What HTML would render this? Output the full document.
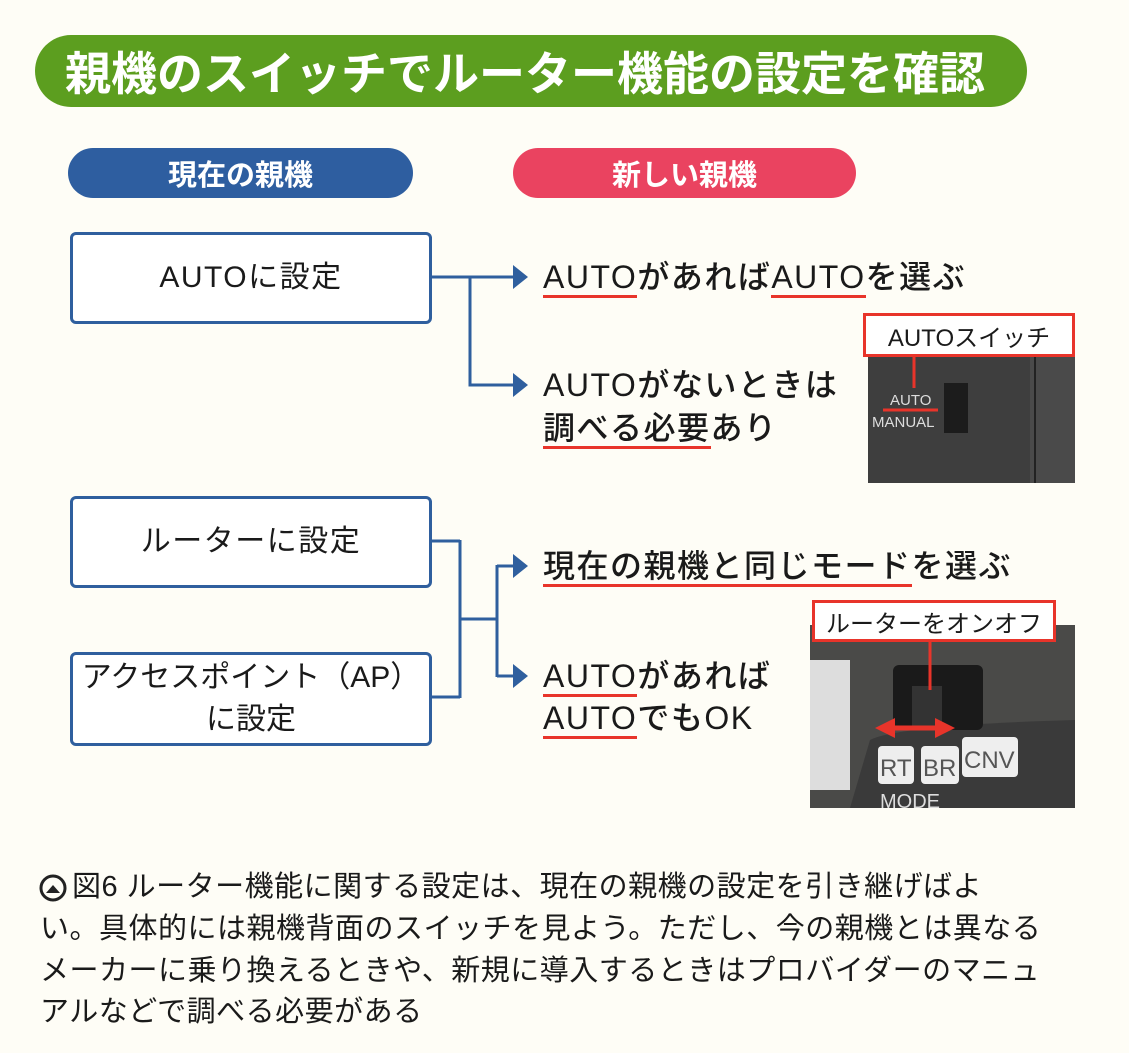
<!DOCTYPE html>
<html><head><meta charset="utf-8"><style>
body{margin:0;width:1129px;height:1053px;background:#fefdf6;position:relative;overflow:hidden;font-family:"Liberation Sans","Noto Sans CJK JP",sans-serif;color:#1a1a1a}
.a{position:absolute}
.pill{position:absolute;border-radius:30px;color:#fff;font-weight:bold;display:flex;align-items:center}
.box{position:absolute;border:3px solid #2f5f9e;border-radius:6px;background:#fff;display:flex;align-items:center;justify-content:center;text-align:center;font-size:30px;letter-spacing:1.5px;line-height:42px}
.t{position:absolute;font-size:32px;letter-spacing:1.5px;font-weight:500;line-height:42px;white-space:nowrap}
.u{border-bottom:3px solid #e8342a}
.lbl{position:absolute;background:#fff;border:3px solid #e8342a;font-size:24px;display:flex;align-items:center;justify-content:center;white-space:nowrap}
.cap{position:absolute;left:40px;font-size:29px;letter-spacing:0.5px;line-height:41px;white-space:nowrap}
</style></head><body>
<div class="pill" style="left:35px;top:35px;width:992px;height:72px;background:#5c9e1f;border-radius:36px;font-size:46px;padding-left:30px;box-sizing:border-box">親機のスイッチでルーター機能の設定を確認</div>
<div class="pill" style="left:68px;top:148px;width:345px;height:50px;background:#2e5ea0;justify-content:center;font-size:29px">現在の親機</div>
<div class="pill" style="left:513px;top:148px;width:343px;height:50px;background:#ea4360;justify-content:center;font-size:29px">新しい親機</div>

<div class="box" style="left:70px;top:232px;width:356px;height:86px">AUTOに設定</div>
<div class="box" style="left:70px;top:496px;width:356px;height:86px">ルーターに設定</div>
<div class="box" style="left:70px;top:652px;width:356px;height:88px;letter-spacing:0">アクセスポイント（AP）<br>に設定</div>

<svg class="a" style="left:0;top:0" width="1129" height="1053">
<g stroke="#2f5f9e" stroke-width="3" fill="none">
<path d="M429 277H516M470 277V385H516"/>
<path d="M429 541H460M429 697H460M460 540V698M460 619H497M497 566H516M497 565V677M497 676H516"/>
</g>
<g fill="#2f5f9e">
<path d="M513 265L528 277L513 289Z"/><path d="M513 373L528 385L513 397Z"/>
<path d="M513 554L528 566L513 578Z"/><path d="M513 664L528 676L513 688Z"/>
</g>
<rect x="868" y="355" width="207" height="128" fill="#3e3e3e"/>
<rect x="1030" y="355" width="45" height="128" fill="#4a4a4a"/>
<line x1="1035" y1="355" x2="1035" y2="483" stroke="#222" stroke-width="2"/>
<rect x="944" y="383" width="24" height="50" fill="#1c1c1c"/>
<text x="890" y="405" fill="#ddd" font-size="15" font-family="Liberation Sans">AUTO</text>
<text x="872" y="427" fill="#ddd" font-size="15" font-family="Liberation Sans">MANUAL</text>
<line x1="883" y1="410" x2="938" y2="410" stroke="#e8342a" stroke-width="3"/>
<line x1="914" y1="355" x2="914" y2="388" stroke="#e8342a" stroke-width="3"/>
<rect x="810" y="625" width="265" height="183" fill="#4a4a48"/>
<rect x="810" y="660" width="40" height="130" fill="#ddd"/>
<path d="M850 808L870 740Q900 725 1075 720V808Z" fill="#3a3a3a"/>
<rect x="893" y="665" width="90" height="65" rx="6" fill="#1a1a1a"/>
<rect x="912" y="686" width="30" height="40" fill="#333"/>
<line x1="930" y1="640" x2="930" y2="690" stroke="#e8342a" stroke-width="3"/>
<path d="M875 728L895 718L895 738ZM955 728L935 718L935 738Z" fill="#e8342a"/>
<line x1="890" y1="728" x2="940" y2="728" stroke="#e8342a" stroke-width="5"/>
<rect x="878" y="746" width="36" height="38" rx="4" fill="#eee"/>
<rect x="921" y="746" width="38" height="38" rx="4" fill="#eee"/>
<rect x="962" y="737" width="56" height="40" rx="4" fill="#eee"/>
<text x="880" y="776" fill="#555" font-size="24" font-family="Liberation Sans">RT</text>
<text x="923" y="776" fill="#555" font-size="24" font-family="Liberation Sans">BR</text>
<text x="964" y="768" fill="#555" font-size="24" font-family="Liberation Sans">CNV</text>
<text x="880" y="808" fill="#ddd" font-size="20" font-family="Liberation Sans">MODE</text>
<circle cx="53" cy="888" r="12" fill="none" stroke="#222" stroke-width="3"/>
<path d="M46 893L53 885L60 893Z" fill="#222"/>
</svg>

<div class="t" style="left:543px;top:256px"><span class="u">AUTO</span>があれば<span class="u">AUTO</span>を選ぶ</div>
<div class="t" style="left:543px;top:364px">AUTOがないときは</div>
<div class="t" style="left:543px;top:407px"><span class="u">調べる必要</span>あり</div>
<div class="t" style="left:543px;top:545px"><span class="u">現在の親機と同じモード</span>を選ぶ</div>
<div class="t" style="left:543px;top:655px"><span class="u">AUTO</span>があれば</div>
<div class="t" style="left:543px;top:697px"><span class="u">AUTO</span>でもOK</div>

<div class="lbl" style="left:863px;top:313px;width:206px;height:38px">AUTOスイッチ</div>
<div class="lbl" style="left:812px;top:600px;width:238px;height:36px">ルーターをオンオフ</div>

<div class="cap" style="top:867px;left:72px">図6 ルーター機能に関する設定は、現在の親機の設定を引き継げばよ</div>
<div class="cap" style="top:909px">い。具体的には親機背面のスイッチを見よう。ただし、今の親機とは異なる</div>
<div class="cap" style="top:951px">メーカーに乗り換えるときや、新規に導入するときはプロバイダーのマニュ</div>
<div class="cap" style="top:992px">アルなどで調べる必要がある</div>
</body></html>
